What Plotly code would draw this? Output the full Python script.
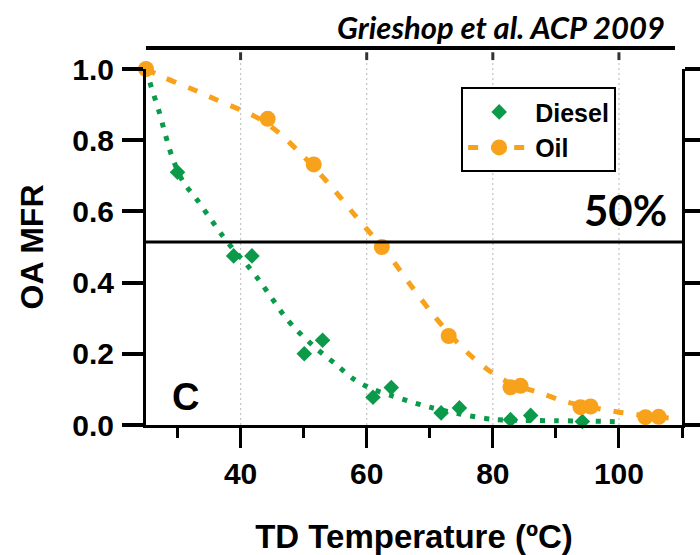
import plotly.graph_objects as go

# ---- data ----
diesel_x = [25, 30.0, 38.9, 41.8, 50.1, 53.0, 61.0, 63.9, 71.8, 74.7, 82.8, 86.0, 94.2]
diesel_y = [1.0, 0.71, 0.475, 0.475, 0.20, 0.238, 0.078, 0.105, 0.034, 0.048, 0.015, 0.027, 0.010]

oil_x = [25, 44.3, 51.6, 62.4, 73.0, 82.8, 84.4, 93.9, 95.5, 104.2, 106.3]
oil_y = [1.0, 0.86, 0.732, 0.50, 0.25, 0.106, 0.110, 0.050, 0.052, 0.022, 0.023]

diesel_fit_x = [25, 26, 27, 28, 29, 30, 31, 33, 35, 37, 39, 41, 43, 45, 47, 49, 52, 55, 58, 61, 64, 67, 70, 75, 80, 85, 90, 95, 100]
diesel_fit_y = [1.0, 0.94, 0.885, 0.82, 0.76, 0.715, 0.68, 0.635, 0.585, 0.535, 0.49, 0.45, 0.405, 0.355, 0.305, 0.265, 0.215, 0.172, 0.128, 0.10, 0.082, 0.065, 0.05, 0.03, 0.016, 0.013, 0.012, 0.011, 0.009]

oil_fit_x = [25, 28, 32, 36, 40, 43, 46, 49, 52, 55, 58, 61, 64, 67, 70, 73, 76, 79, 82, 85, 88, 91, 94, 97, 100, 103, 106, 108.5]
oil_fit_y = [1.0, 0.975, 0.946, 0.915, 0.885, 0.86, 0.822, 0.772, 0.717, 0.657, 0.592, 0.53, 0.465, 0.392, 0.322, 0.258, 0.203, 0.158, 0.124, 0.104, 0.087, 0.068, 0.055, 0.045, 0.036, 0.029, 0.023, 0.019]

x_ticks = [40, 60, 80, 100]
y_ticks = [0.0, 0.2, 0.4, 0.6, 0.8, 1.0]
y_ticklabels = ["0.0", "0.2", "0.4", "0.6", "0.8", "1.0"]
half_level = 0.514

GREEN = "#0b9a4a"
ORANGE = "#f8a21c"
AX_FONT = "Liberation Sans, Arial, sans-serif"

fig = go.Figure()

fig.add_trace(go.Scatter(x=diesel_fit_x, y=diesel_fit_y, mode="lines", line=dict(color=GREEN, width=5, dash="5px,9px", shape="spline", smoothing=0.8), showlegend=False, hoverinfo="skip", cliponaxis=False))
fig.add_trace(go.Scatter(x=oil_fit_x, y=oil_fit_y, mode="lines", line=dict(color=ORANGE, width=5, dash="10px,13px", shape="spline", smoothing=0.8), showlegend=False, hoverinfo="skip", cliponaxis=False))

fig.add_trace(go.Scatter(x=diesel_x, y=diesel_y, mode="markers", name="Diesel", marker=dict(symbol="diamond", size=12, color=GREEN), cliponaxis=False))
fig.add_trace(go.Scatter(x=oil_x, y=oil_y, mode="markers", name="Oil", marker=dict(symbol="circle", size=16, color=ORANGE), cliponaxis=False, showlegend=False))
# legend entry for the oil series (markers + dashed fit line)
fig.add_trace(go.Scatter(x=[None], y=[None], mode="markers+lines", name="Oil", marker=dict(symbol="circle", size=16, color=ORANGE), line=dict(color=ORANGE, width=5, dash="10px,13px")))

# vertical dotted grid lines extending above the frame, with small marks at their tops
for xv in x_ticks:
    fig.add_shape(type="line", xref="x", yref="paper", x0=xv, x1=xv, y0=0, y1=1.048, line=dict(color="#c4c4c4", width=1.2, dash="2px,3px"), layer="below")
    fig.add_shape(type="line", xref="x", yref="paper", x0=xv, x1=xv, y0=1.025, y1=1.047, line=dict(color="#333333", width=3))

# 50% horizontal line
fig.add_shape(type="line", xref="paper", yref="y", x0=0, x1=1, y0=half_level, y1=half_level, line=dict(color="black", width=3))
# top line under citation
fig.add_shape(type="line", xref="paper", yref="paper", x0=0, x1=0.987, y0=1.059, y1=1.059, line=dict(color="black", width=4))

fig.add_annotation(xref="paper", yref="paper", x=0.972, y=1.118, xanchor="right", yanchor="middle", showarrow=False,
                   text="<b><i>Grieshop et al. ACP 2009</i></b>", font=dict(family="Lato, Open Sans, sans-serif", size=31, color="black"))
fig.add_annotation(xref="paper", yref="paper", x=0.975, y=0.604, xanchor="right", yanchor="middle", showarrow=False,
                   text="<b>50%</b>", font=dict(family="Lato, Open Sans, sans-serif", size=42, color="black"))
fig.add_annotation(xref="x", yref="y", x=31.2, y=0.079, showarrow=False, text="<b>C</b>",
                   font=dict(family=AX_FONT, size=38, color="black"))

fig.update_layout(
    width=700, height=555,
    margin=dict(l=146, r=18, t=69, b=130, autoexpand=False),
    paper_bgcolor="white", plot_bgcolor="white",
    font=dict(family=AX_FONT, color="black"),
    legend=dict(x=0.588, y=0.949, xanchor="left", yanchor="top", bgcolor="white", bordercolor="black", borderwidth=2,
                font=dict(family=AX_FONT, size=25, color="black", weight="bold"), itemwidth=62, tracegroupgap=0),
    showlegend=True,
)

fig.update_xaxes(range=[25, 110], tickvals=x_ticks, ticks="outside", ticklen=20, tickwidth=3, tickcolor="black",
                 showline=True, linecolor="black", linewidth=3, showgrid=False, zeroline=False, automargin=False,
                 tickfont=dict(family=AX_FONT, size=30, color="black", weight="bold"),
                 minor=dict(dtick=10, tick0=0, ticks="outside", ticklen=10, tickwidth=3, tickcolor="black"),
                 title=dict(text="<b>TD Temperature (ºC)</b>", font=dict(family=AX_FONT, size=33, color="black"), standoff=40))
fig.update_yaxes(range=[0, 1.0], tickvals=y_ticks, ticktext=y_ticklabels, ticks="outside", ticklen=21, tickwidth=4, tickcolor="black",
                 showline=True, linecolor="black", linewidth=3, mirror="ticks", showgrid=False, zeroline=False, automargin=False,
                 ticklabelstandoff=2,
                 tickfont=dict(family=AX_FONT, size=30, color="black", weight="bold"),
                 title=dict(text="<b>OA MFR</b>", font=dict(family=AX_FONT, size=32, color="black"), standoff=20))

fig.write_html("out.html")
